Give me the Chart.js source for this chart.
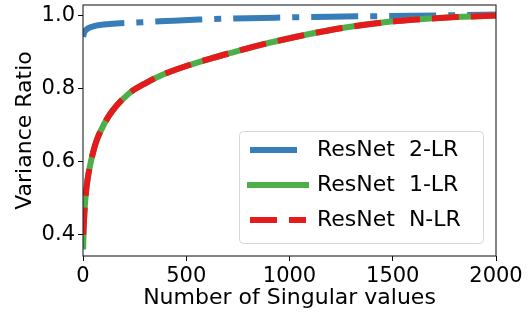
<!DOCTYPE html>
<html>
<head>
<meta charset="utf-8">
<script src="https://cdn.jsdelivr.net/npm/chart.js@4.4.1/dist/chart.umd.min.js"></script>
<style>
    html, body { margin: 0; padding: 0; background: #fff; }
    #chart { display: block; }
</style>
</head>
<body>
<canvas id="chart" width="529" height="314"></canvas>
<script>
// values
var seriesNames = ['ResNet  2-LR', 'ResNet  1-LR', 'ResNet  N-LR'];

var xTwoLR = [1, 5, 15, 46, 128, 258, 403, 560, 800, 1000, 1200, 1500, 1800, 2000];
var twoLR = [0.942, 0.952, 0.961, 0.970, 0.977, 0.981, 0.985, 0.989, 0.993, 0.995, 0.997, 0.999, 1.001, 1.003];

var xOneLR = [1, 4, 9, 16, 25, 40, 64, 104, 143, 225, 306, 385, 500, 627, 710, 870, 1033, 1194, 1355, 1518, 1680, 1840, 2000];
var oneLR = [0.368, 0.430, 0.480, 0.525, 0.562, 0.605, 0.655, 0.705, 0.740, 0.788, 0.816, 0.838, 0.862, 0.884, 0.897, 0.921, 0.942, 0.960, 0.974, 0.985, 0.992, 0.997, 1.000];

var xNLR = [1, 4, 9, 16, 25, 40, 64, 104, 143, 225, 306, 385, 500, 627, 710, 870, 1033, 1194, 1355, 1518, 1680, 1840, 2000];
var nLR = [0.400, 0.432, 0.480, 0.525, 0.562, 0.605, 0.655, 0.705, 0.740, 0.788, 0.816, 0.838, 0.862, 0.884, 0.897, 0.921, 0.942, 0.960, 0.974, 0.985, 0.992, 0.997, 1.000];

var yTicks = [0.4, 0.6, 0.8, 1.0];
var xTicks = [0, 500, 1000, 1500, 2000];

var FONT = 'DejaVu Sans';

function points(xs, ys) {
    return xs.map(function (x, i) { return { x: x, y: ys[i] }; });
}

// legend placed inside the plot, frame round the plot drawn over the lines
var framePlugin = {
    id: 'frame',
    afterLayout: function (chart) {
        var lg = chart.legend;
        var w = lg.width, h = lg.height;
        lg.left = 237;
        lg.top = 126;
        lg.right = lg.left + w;
        lg.bottom = lg.top + h;
    },
    beforeDraw: function (chart) {
        var ctx = chart.ctx;
        var x = 239.5, y = 131.5, w = 244, h = 112, r = 4;
        ctx.save();
        ctx.fillStyle = 'rgba(255,255,255,0.8)';
        ctx.strokeStyle = '#d6d6d6';
        ctx.lineWidth = 1;
        ctx.beginPath();
        ctx.moveTo(x + r, y);
        ctx.arcTo(x + w, y, x + w, y + h, r);
        ctx.arcTo(x + w, y + h, x, y + h, r);
        ctx.arcTo(x, y + h, x, y, r);
        ctx.arcTo(x, y, x + w, y, r);
        ctx.closePath();
        ctx.fill();
        ctx.stroke();
        ctx.restore();
    },
    afterDatasetsDraw: function (chart) {
        var a = chart.chartArea;
        var ctx = chart.ctx;
        ctx.save();
        ctx.strokeStyle = '#222';
        ctx.lineWidth = 1.1;
        ctx.strokeRect(a.left, a.top, a.right - a.left, a.bottom - a.top);
        ctx.restore();
    }
};

new Chart(document.getElementById('chart'), {
    type: 'line',
    data: {
        datasets: [{
            label: seriesNames[0],
            data: points(xTwoLR, twoLR),
            borderColor: '#377eb8',
            borderWidth: 6,
            borderDash: [47, 12, 7, 12],
            borderCapStyle: 'butt',
            order: 3
        }, {
            label: seriesNames[1],
            data: points(xOneLR, oneLR),
            borderColor: '#4daf4a',
            borderWidth: 6,
            borderCapStyle: 'square',
            order: 2
        }, {
            label: seriesNames[2],
            data: points(xNLR, nLR),
            borderColor: '#e41a1c',
            borderWidth: 6,
            borderDash: [27, 12],
            borderCapStyle: 'butt',
            order: 1
        }]
    },
    options: {
        responsive: false,
        animation: false,
        devicePixelRatio: 1,
        layout: {
            padding: { left: 0, top: 5, right: 33, bottom: 0 }
        },
        elements: {
            point: { radius: 0, hoverRadius: 0 },
            line: { cubicInterpolationMode: 'monotone', fill: false }
        },
        datasets: {
            line: { clip: 0 }
        },
        plugins: {
            tooltip: { enabled: false },
            legend: {
                position: 'chartArea',
                align: 'start',
                labels: {
                    usePointStyle: true,
                    pointStyle: 'line',
                    pointStyleWidth: 56,
                    padding: 13,
                    color: '#000',
                    font: { family: FONT, size: 22 },
                    sort: function (a, b) { return a.datasetIndex - b.datasetIndex; },
                    generateLabels: function (chart) {
                        var items = Chart.defaults.plugins.legend.labels.generateLabels(chart);
                        items.forEach(function (item) {
                            var ds = chart.data.datasets[item.datasetIndex];
                            item.lineDash = ds.borderDash || [];
                            item.lineCap = ds.borderCapStyle;
                            item.lineWidth = ds.borderWidth;
                            item.strokeStyle = ds.borderColor;
                        });
                        return items;
                    }
                }
            }
        },
        scales: {
            x: {
                type: 'linear',
                min: 0,
                max: 2000,
                afterBuildTicks: function (scale) {
                    scale.ticks = xTicks.map(function (v) { return { value: v }; });
                },
                afterFit: function (scale) {
                    scale.height = 58;
                    scale.paddingLeft = 0;
                    scale.paddingRight = 0;
                },
                border: { display: false },
                grid: {
                    drawOnChartArea: false,
                    drawTicks: true,
                    tickLength: 5,
                    color: '#000'
                },
                ticks: {
                    color: '#000',
                    padding: 3,
                    maxRotation: 0,
                    font: { family: FONT, size: 21 },
                    callback: function (v) { return String(v); }
                },
                title: {
                    display: true,
                    text: 'Number of Singular values',
                    color: '#000',
                    font: { family: FONT, size: 22 },
                    padding: { top: 0, bottom: 3 }
                }
            },
            y: {
                min: 0.342,
                max: 1.029,
                afterBuildTicks: function (scale) {
                    scale.ticks = yTicks.map(function (v) { return { value: v }; });
                },
                afterFit: function (scale) {
                    scale.width = 83;
                    scale.paddingTop = 0;
                    scale.paddingBottom = 0;
                },
                border: { display: false },
                grid: {
                    drawOnChartArea: false,
                    drawTicks: true,
                    tickLength: 5,
                    color: '#000'
                },
                ticks: {
                    color: '#000',
                    padding: 3,
                    font: { family: FONT, size: 21 },
                    callback: function (v) { return v.toFixed(1); }
                },
                title: {
                    display: true,
                    text: 'Variance Ratio',
                    color: '#000',
                    font: { family: FONT, size: 22 },
                    padding: { top: 12, bottom: 0 }
                }
            }
        }
    },
    plugins: [framePlugin]
});
</script>
</body>
</html>
